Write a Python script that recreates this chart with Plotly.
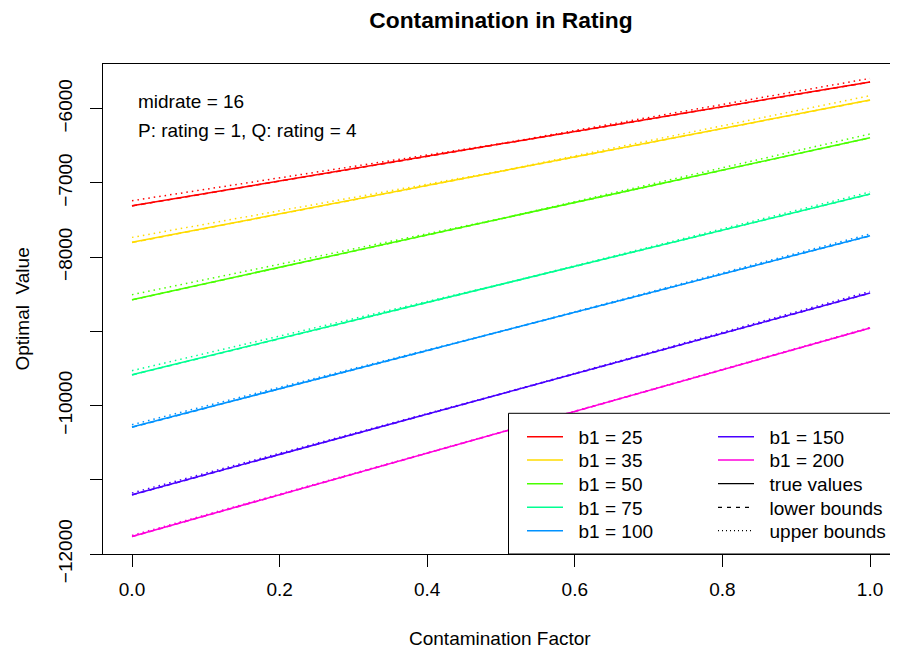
import plotly.graph_objects as go

# ---------------- data ----------------
b1_labels = ["b1 = 25", "b1 = 35", "b1 = 50", "b1 = 75", "b1 = 100", "b1 = 150", "b1 = 200"]
colors = ["#FF0000", "#FFDB00", "#49FF00", "#00FF92", "#0092FF", "#4900FF", "#FF00DB"]

x_true = [0.0, 1.0]
true_vals = [
    [-7307, -5640],
    [-7801, -5883],
    [-8573, -6391],
    [-9584, -7149],
    [-10289, -7711],
    [-11201, -8484],
    [-11763, -8955],
]
lower_vals = [
    [-7310, -5642],
    [-7804, -5885],
    [-8576, -6393],
    [-9587, -7151],
    [-10292, -7713],
    [-11204, -8486],
    [-11766, -8957],
]
x_upper = [0.0, 0.5, 1.0]
upper_vals = [
    [-7240, -6470, -5592],
    [-7734, -6838, -5825],
    [-8506, -7480, -6341],
    [-9530, -8364, -7122],
    [-10258, -8998, -7688],
    [-11178, -9840, -8462],
    [-11750, -10357, -8947],
]
style_labels = ["true values", "lower bounds", "upper bounds"]

y_tickvals = [-6000, -7000, -8000, -9000, -10000, -11000, -12000]
y_ticktext = ["\u22126000", "\u22127000", "\u22128000", "", "\u221210000", "", "\u221212000"]
x_tickvals = [0.0, 0.2, 0.4, 0.6, 0.8, 1.0]
x_ticktext = ["0.0", "0.2", "0.4", "0.6", "0.8", "1.0"]

FONT = "Liberation Sans, Arial, Helvetica, sans-serif"
OFF = 8                      # page body margin
W, H = 898 - OFF, 650 - OFF
L, R, T, B = 103 - OFF, 0, 64 - OFF, 650 - 554
PW, PH = W - L - R, H - T - B

def sx(px):   # screen px -> paper x
    return (px - OFF - L) / PW

def sy(py):   # screen px -> paper y
    return (H - B - (py - OFF)) / PH

DASH = "5px,4px"
DOT = "1.5px,4px"
PAD = "\u00a0\u00a0"   # gap between legend sample and label

fig = go.Figure()

# legend slot assignment (one legend per entry for exact placement)
col1_x, col2_x = 522, 713
row_y = [437.3, 460.7, 484.3, 508.0, 531.3]
slots = [(col1_x, row_y[r]) for r in range(5)] + [(col2_x, row_y[r]) for r in range(5)]
legend_names = ["legend"] + ["legend%d" % (k + 1) for k in range(1, 10)]

for i, lab in enumerate(b1_labels):
    fig.add_trace(go.Scatter(x=x_true, y=true_vals[i], mode="lines",
                             line=dict(color=colors[i], width=1.5),
                             name=PAD + lab, legend=legend_names[i], showlegend=True))
    fig.add_trace(go.Scatter(x=x_true, y=lower_vals[i], mode="lines",
                             line=dict(color=colors[i], width=1.5, dash=DASH),
                             name=lab + " lower", showlegend=False))
    fig.add_trace(go.Scatter(x=x_upper, y=upper_vals[i], mode="lines",
                             line=dict(color=colors[i], width=1.5, dash=DOT),
                             name=lab + " upper", showlegend=False))

# style-only legend entries
style_dash = ["solid", "4px,5px", "1px,3px"]
for k, lab in enumerate(style_labels):
    fig.add_trace(go.Scatter(x=[None], y=[None], mode="lines",
                             line=dict(color="black", width=1.2, dash=style_dash[k]),
                             name=PAD + lab, legend=legend_names[7 + k], showlegend=True))

legend_common = dict(font=dict(family=FONT, size=19, color="black"), bgcolor="rgba(0,0,0,0)",
                     borderwidth=0, itemwidth=36, xanchor="left", yanchor="top")
legend_layout = {}
for name, (lx, ly) in zip(legend_names, slots):
    legend_layout[name] = dict(x=sx(lx), y=sy(ly - 19.5), **legend_common)

fig.update_layout(
    width=W, height=H,
    margin=dict(l=L, r=R, t=T, b=B, pad=0),
    paper_bgcolor="white", plot_bgcolor="white",
    font=dict(family=FONT, size=19, color="black"),
    title=dict(text="<b>Contamination in Rating</b>", x=(501 - OFF) / W, xanchor="center",
               y=1 - (20 - OFF) / H, yanchor="middle", font=dict(family=FONT, size=22.8, color="black")),
    xaxis=dict(range=[-0.0393, 1.0379], tickvals=x_tickvals, ticktext=x_ticktext,
               showgrid=False, zeroline=False, showline=True, linecolor="black", linewidth=1,
               mirror=True, ticks="outside", ticklen=12, tickcolor="black", tickwidth=1,
               tickfont=dict(family=FONT, size=19, color="black"), ticklabelstandoff=6),
    yaxis=dict(range=[-12000, -5398], tickvals=y_tickvals, ticktext=y_ticktext,
               showgrid=False, zeroline=False, showline=True, linecolor="black", linewidth=1,
               ticks="outside", ticklen=12, tickcolor="black", tickwidth=1, tickangle=-90,
               tickfont=dict(family=FONT, size=19, color="black"), ticklabelstandoff=10),
    showlegend=True,
    **legend_layout,
)

# legend frame (white background covering lines)
fig.add_shape(type="rect", xref="paper", yref="paper",
              x0=sx(508.5), x1=sx(897.5), y0=sy(554), y1=sy(413.3),
              line=dict(color="black", width=1), fillcolor="white", layer="above")

annos = [
    dict(text="midrate = 16", x=sx(136), y=sy(101.7)),
    dict(text="P: rating = 1, Q: rating = 4", x=sx(136), y=sy(130.7)),
]
for a in annos:
    fig.add_annotation(xref="paper", yref="paper", xanchor="left", yanchor="middle",
                       showarrow=False, font=dict(family=FONT, size=19, color="black"), **a)

fig.add_annotation(text="Contamination Factor", xref="paper", yref="paper",
                   x=sx(500), y=sy(638), xanchor="center", yanchor="middle",
                   showarrow=False, font=dict(family=FONT, size=19, color="black"))
fig.add_annotation(text="Optimal  Value", xref="paper", yref="paper",
                   x=sx(21.5), y=sy(309), xanchor="center", yanchor="middle", textangle=-90,
                   showarrow=False, font=dict(family=FONT, size=19, color="black"))

fig.write_html("out.html")
